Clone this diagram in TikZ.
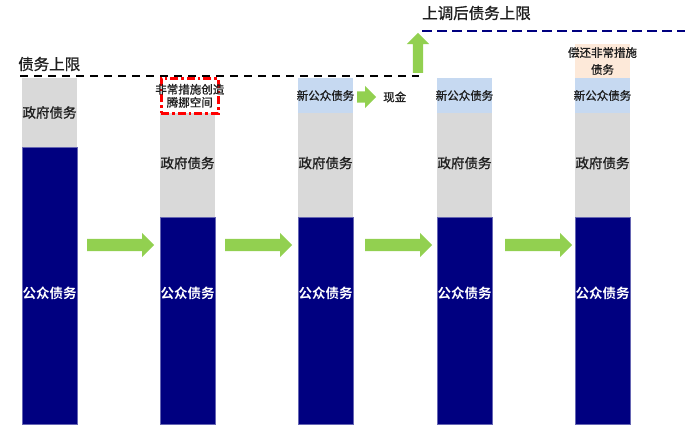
\documentclass[tikz,border=0pt]{standalone}
\usepackage{fontspec}
\newfontfamily\cjk[FakeBold=1]{Noto Sans CJK SC}
\newfontfamily\cjkb{Noto Sans CJK SC Bold}
\definecolor{dnavy}{RGB}{0,0,128}
\definecolor{dgray}{RGB}{217,217,217}
\definecolor{lblue}{RGB}{198,217,241}
\definecolor{lpeach}{RGB}{253,233,217}
\definecolor{agreen}{RGB}{146,208,80}
\definecolor{ink}{RGB}{30,30,30}
\usetikzlibrary{shapes.arrows,positioning}

\tikzset{
  seg/.style={rectangle,minimum width=55pt,inner sep=0pt,outer sep=0pt,anchor=north west},
  pubseg/.style={seg,fill=dnavy,draw=dnavy!60,line width=0.5pt},
  govseg/.style={seg,fill=dgray},
  newseg/.style={seg,fill=lblue},
  repseg/.style={seg,fill=lpeach},
  big/.style={font=\cjk\fontsize{13.5}{15}\selectfont,inner sep=0pt,ink},
  pubtext/.style={font=\cjkb\fontsize{13.5}{15}\selectfont,inner sep=0pt,white},
  small/.style={font=\cjk\fontsize{11.5}{16}\selectfont,inner sep=0pt,align=center,ink},
  head/.style={font=\cjk\fontsize{15.5}{17}\selectfont,inner sep=0pt,anchor=west,ink},
  fatarrow/.style={single arrow,fill=agreen,inner sep=6pt,single arrow head indent=0pt,
    minimum height=67pt,minimum width=24pt,single arrow head extend=6pt,anchor=tail}
}

\begin{document}
\begin{tikzpicture}[x=1pt,y=-1pt]
\useasboundingbox (0,0) rectangle (685,436);
% bar 1
\node[govseg,minimum height=69pt] (g1) at (22,78) {};
\node[pubseg,minimum height=277pt] (p1) at (22,147) {};
\node[big] at (g1.center) {政府债务};
\node[pubtext] at (49.5,293) {公众债务};
% bars 2 to 5
\foreach \i/\x in {2/160,3/298,4/437,5/575}{
  \node[govseg,minimum height=104pt] (g\i) at (\x,113) {};
  \node[pubseg,minimum height=207pt] (p\i) at (\x,217) {};
  \node[big] at (\x+27.5,163) {政府债务};
  \node[pubtext] at (\x+27.5,293) {公众债务};
}
\foreach \i/\x in {3/298,4/437,5/575}{
  \node[newseg,minimum height=35pt] (n\i) at (\x,78) {};
  \node[small] at (n\i.center) {新公众债务};
}
\node[repseg,minimum height=34pt] (r5) at (575,44) {};
\node[small,font=\cjk\fontsize{11.5}{17}\selectfont] at (r5.center) {偿还非常措施\\债务};

% debt ceilings
\coordinate (capL) at (20,76);
\coordinate (capR) at (419,76);
\coordinate (newL) at (422,31);
\coordinate (newR) at (685,31);
\draw[line width=2.5pt,dash pattern=on 8pt off 6pt] (capL) -- (capR);
\draw[dnavy,line width=2pt,dash pattern=on 10pt off 5pt] (newL) -- (newR);
\node[head] (capT) at (18,64) {债务上限};
\node[head] (newT) at (422,13) {上调后债务上限};

% room created
\node[rectangle,draw=red,line width=2.6pt,dash pattern=on 8pt off 3pt on 2.5pt off 3pt,
  minimum width=57pt,minimum height=35pt,anchor=north west] (room) at (160,77) {};
\node[small,font=\cjk\fontsize{11.5}{13}\selectfont] at (room.center) {非常措施创造\\腾挪空间};

% arrows
\foreach \t in {87,225,365,505}
  \node[fatarrow] at (\t,245) {};
\node[fatarrow,inner sep=5.5pt,minimum height=19pt,minimum width=22pt,single arrow head extend=5.5pt] (cashA) at (357,97) {};
\node[small,anchor=west] (cash) at (383,97) {现金};
\node[fatarrow,shape border rotate=90,inner sep=5pt,minimum height=40pt,minimum width=22pt,
  single arrow head extend=6pt] (upA) at (418,73) {};
\end{tikzpicture}
\end{document}
